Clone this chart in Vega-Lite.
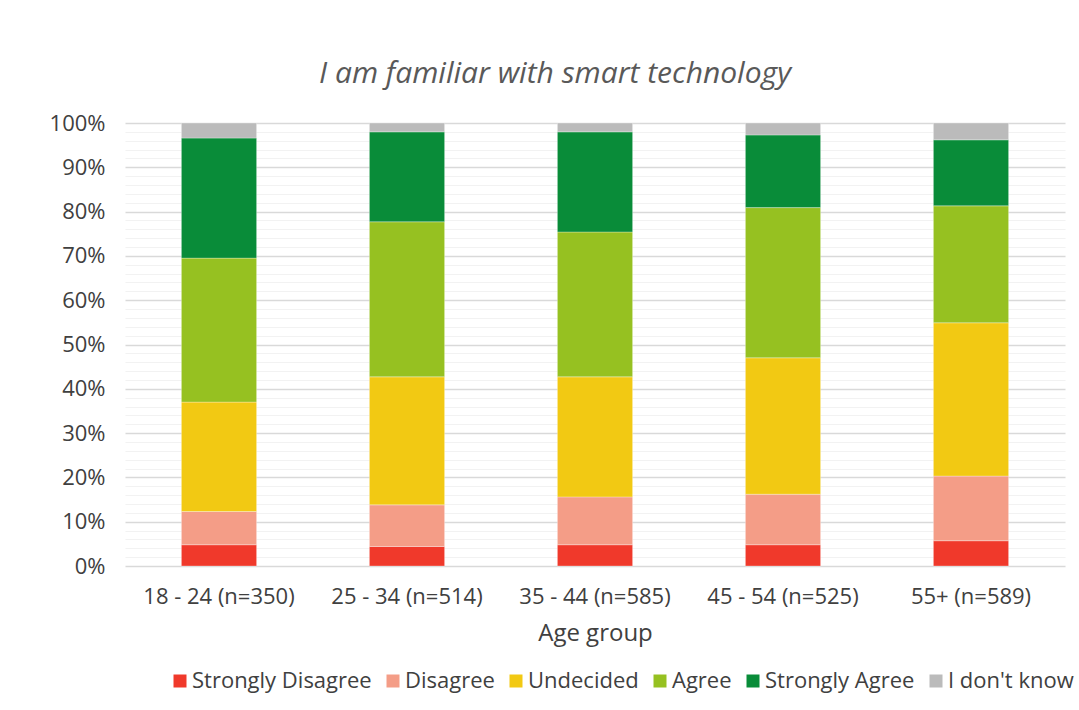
{
  "$schema": "https://vega.github.io/schema/vega-lite/v6.json",
  "width": 940,
  "height": 443,
  "autosize": {"type": "none"},
  "padding": {"left": 125, "top": 123, "right": 14, "bottom": 144},
  "background": "#ffffff",
  "title": {
    "text": "I am familiar with smart technology",
    "font": "Open Sans",
    "fontSize": 30,
    "fontStyle": "italic",
    "fontWeight": "normal",
    "color": "#595959",
    "anchor": "middle",
    "dx": -40,
    "offset": 23
  },
  "data": {
    "values": [
      {"age": "18 - 24 (n=350)", "response": "Strongly Disagree", "rank": 1, "pct": 4.8},
      {"age": "18 - 24 (n=350)", "response": "Disagree", "rank": 2, "pct": 7.5},
      {"age": "18 - 24 (n=350)", "response": "Undecided", "rank": 3, "pct": 24.7},
      {"age": "18 - 24 (n=350)", "response": "Agree", "rank": 4, "pct": 32.5},
      {"age": "18 - 24 (n=350)", "response": "Strongly Agree", "rank": 5, "pct": 27.1},
      {"age": "18 - 24 (n=350)", "response": "I don't know", "rank": 6, "pct": 3.4},
      {"age": "25 - 34 (n=514)", "response": "Strongly Disagree", "rank": 1, "pct": 4.4},
      {"age": "25 - 34 (n=514)", "response": "Disagree", "rank": 2, "pct": 9.4},
      {"age": "25 - 34 (n=514)", "response": "Undecided", "rank": 3, "pct": 28.9},
      {"age": "25 - 34 (n=514)", "response": "Agree", "rank": 4, "pct": 35.0},
      {"age": "25 - 34 (n=514)", "response": "Strongly Agree", "rank": 5, "pct": 20.3},
      {"age": "25 - 34 (n=514)", "response": "I don't know", "rank": 6, "pct": 2.0},
      {"age": "35 - 44 (n=585)", "response": "Strongly Disagree", "rank": 1, "pct": 4.8},
      {"age": "35 - 44 (n=585)", "response": "Disagree", "rank": 2, "pct": 10.8},
      {"age": "35 - 44 (n=585)", "response": "Undecided", "rank": 3, "pct": 27.1},
      {"age": "35 - 44 (n=585)", "response": "Agree", "rank": 4, "pct": 32.7},
      {"age": "35 - 44 (n=585)", "response": "Strongly Agree", "rank": 5, "pct": 22.6},
      {"age": "35 - 44 (n=585)", "response": "I don't know", "rank": 6, "pct": 2.0},
      {"age": "45 - 54 (n=525)", "response": "Strongly Disagree", "rank": 1, "pct": 4.8},
      {"age": "45 - 54 (n=525)", "response": "Disagree", "rank": 2, "pct": 11.4},
      {"age": "45 - 54 (n=525)", "response": "Undecided", "rank": 3, "pct": 30.8},
      {"age": "45 - 54 (n=525)", "response": "Agree", "rank": 4, "pct": 33.9},
      {"age": "45 - 54 (n=525)", "response": "Strongly Agree", "rank": 5, "pct": 16.4},
      {"age": "45 - 54 (n=525)", "response": "I don't know", "rank": 6, "pct": 2.7},
      {"age": "55+ (n=589)", "response": "Strongly Disagree", "rank": 1, "pct": 5.7},
      {"age": "55+ (n=589)", "response": "Disagree", "rank": 2, "pct": 14.6},
      {"age": "55+ (n=589)", "response": "Undecided", "rank": 3, "pct": 34.6},
      {"age": "55+ (n=589)", "response": "Agree", "rank": 4, "pct": 26.4},
      {"age": "55+ (n=589)", "response": "Strongly Agree", "rank": 5, "pct": 14.9},
      {"age": "55+ (n=589)", "response": "I don't know", "rank": 6, "pct": 3.8}
    ]
  },
  "mark": {"type": "bar", "stroke": "#ffffff", "strokeWidth": 0.5, "strokeOpacity": 0.6},
  "encoding": {
    "x": {
      "field": "age",
      "type": "nominal",
      "sort": null,
      "scale": {"paddingInner": 0.6, "paddingOuter": 0.3},
      "axis": {
        "title": "Age group",
        "labelAngle": 0,
        "labelFont": "Open Sans",
        "labelFontSize": 22,
        "labelColor": "#404040",
        "labelPadding": 20,
        "titleFont": "Open Sans",
        "titleFontSize": 24,
        "titleFontWeight": "normal",
        "titleColor": "#404040",
        "titlePadding": 14,
        "ticks": false,
        "domain": false,
        "grid": false
      }
    },
    "y": {
      "field": "pct",
      "type": "quantitative",
      "stack": "normalize",
      "scale": {"domain": [0, 1]},
      "axis": {
        "title": null,
        "values": [0, 0.02, 0.04, 0.06, 0.08, 0.1, 0.12, 0.14, 0.16, 0.18, 0.2, 0.22, 0.24, 0.26, 0.28, 0.3, 0.32, 0.34, 0.36, 0.38, 0.4, 0.42, 0.44, 0.46, 0.48, 0.5, 0.52, 0.54, 0.56, 0.58, 0.6, 0.62, 0.64, 0.66, 0.68, 0.7, 0.72, 0.74, 0.76, 0.78, 0.8, 0.82, 0.84, 0.86, 0.88, 0.9, 0.92, 0.94, 0.96, 0.98, 1],
        "labelExpr": "round(datum.value*100) % 10 === 0 ? format(datum.value, '.0%') : ''",
        "labelFont": "Open Sans",
        "labelFontSize": 22,
        "labelColor": "#404040",
        "labelPadding": 20,
        "ticks": false,
        "domain": false,
        "grid": true,
        "gridColor": {"condition": {"test": "round(datum.value*100) % 10 === 0", "value": "#d9d9d9"}, "value": "#f2f2f2"},
        "gridWidth": {"condition": {"test": "round(datum.value*100) % 10 === 0", "value": 1.5}, "value": 1.2}
      }
    },
    "color": {
      "field": "response",
      "type": "nominal",
      "sort": ["Strongly Disagree", "Disagree", "Undecided", "Agree", "Strongly Agree", "I don't know"],
      "scale": {
        "domain": ["Strongly Disagree", "Disagree", "Undecided", "Agree", "Strongly Agree", "I don't know"],
        "range": ["#f0392b", "#f49d87", "#f2c913", "#96c121", "#098c39", "#bbbbbb"]
      },
      "legend": {
        "title": null,
        "orient": "none",
        "direction": "horizontal",
        "legendX": 44,
        "legendY": 547,
        "symbolType": "square",
        "symbolSize": 169,
        "symbolStrokeWidth": 0,
        "labelFont": "Open Sans",
        "labelFontSize": 22,
        "labelColor": "#404040",
        "labelOffset": 1,
        "columnPadding": 10,
        "labelLimit": 300
      }
    },
    "order": {"field": "rank", "type": "quantitative", "sort": "ascending"}
  },
  "config": {
    "view": {"stroke": null}
  }
}
